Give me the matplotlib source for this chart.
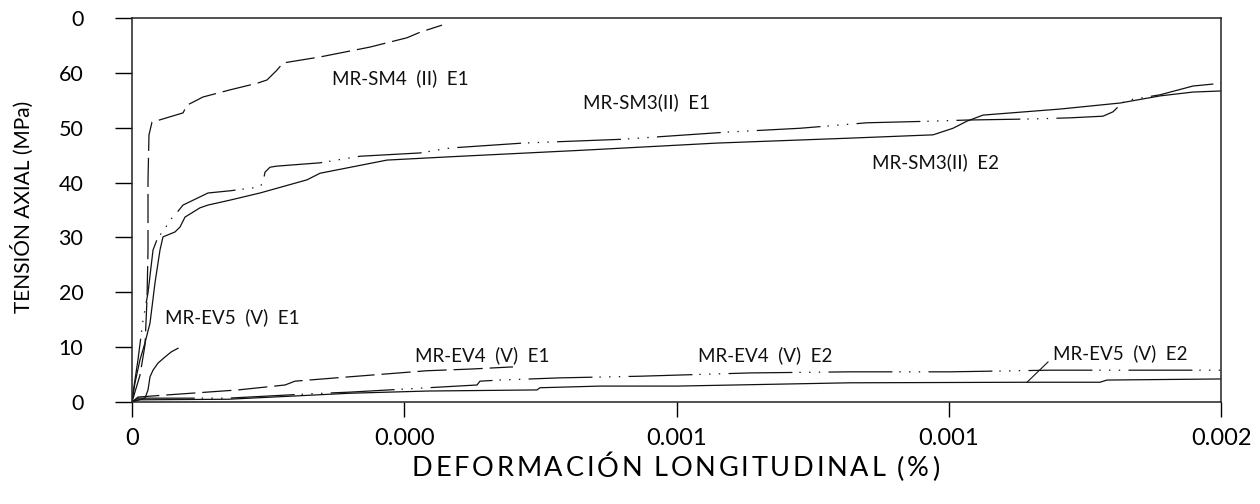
import matplotlib
matplotlib.use("Agg")
import matplotlib.pyplot as plt
import numpy as np

plt.rcParams['font.family'] = ['Lato', 'DejaVu Sans']
plt.rcParams['lines.scale_dashes'] = False

# strain values in units of 1e-3 (plotted as x * 1e-3), stress in MPa
sm4_e1_x = [0, 0.0147, 0.0239, 0.0275, 0.0294, 0.0294, 0.0312, 0.0367, 0.0937, 0.101, 0.1304,
            0.18, 0.2296, 0.2479, 0.2663, 0.2773, 0.3453, 0.4371, 0.5051, 0.5289, 0.5693]
sm4_e1_y = [0, 4.9, 10.4, 18.6, 27.7, 40.5, 48.7, 51.0, 52.7, 54.1, 55.6,
            56.9, 58.1, 58.7, 60.5, 61.8, 62.9, 64.7, 66.4, 67.4, 68.7]

sm3_e1_x = [0, 0.0018, 0.011, 0.0202, 0.0294, 0.0386, 0.0478, 0.0606, 0.0661, 0.079, 0.0937,
            0.1396, 0.18, 0.2351, 0.2406, 0.2443, 0.2534, 0.2663, 0.3453, 0.4187, 0.5289, 0.584,
            0.7181, 0.9017, 1.0927, 1.2268, 1.3499, 1.4711, 1.5335, 1.6547, 1.7227, 1.7833,
            1.8017, 1.8182, 1.8274, 1.888, 1.9486, 2.0]
sm3_e1_y = [0, 1.6, 7.7, 14.9, 19.9, 27.7, 30.1, 31.4, 32.8, 34.1, 35.9,
            38.1, 38.5, 39.2, 40.1, 41.9, 42.8, 43.0, 43.6, 44.8, 45.4, 46.3,
            47.2, 47.9, 49.2, 49.9, 50.9, 51.2, 51.4, 51.6, 51.8, 52.1,
            52.9, 54.5, 55.0, 56.0, 57.6, 58.1]

sm3_e2_x = [0, 0.0055, 0.0147, 0.0239, 0.0331, 0.0422, 0.0514, 0.0569, 0.079, 0.0882, 0.0973,
            0.1249, 0.1396, 0.18, 0.2351, 0.3214, 0.3453, 0.4683, 0.584, 0.8283, 1.0744,
            1.3186, 1.4711, 1.5078, 1.5335, 1.5629, 1.7043, 1.8145, 1.888, 1.9486, 2.0]
sm3_e2_y = [0, 3.5, 7.7, 10.8, 14.4, 21.7, 27.7, 30.1, 31.0, 31.9, 33.7,
            35.4, 35.9, 36.8, 38.1, 40.5, 41.7, 44.1, 44.7, 45.9, 47.2,
            48.1, 48.7, 49.9, 51.2, 52.3, 53.4, 54.5, 55.8, 56.5, 56.7]

ev5_e1_x = [0, 0.0239, 0.0294, 0.0331, 0.0386, 0.0478, 0.0606, 0.0716, 0.0845]
ev5_e1_y = [0, 0.7, 2.2, 4.6, 5.8, 7.1, 8.2, 9.1, 9.8]

ev4_e1_x = [0, 0.011, 0.0661, 0.1947, 0.281, 0.2994, 0.4004, 0.5418, 0.6208, 0.6997]
ev4_e1_y = [0, 0.9, 1.3, 2.2, 3.1, 3.8, 4.6, 5.7, 6.0, 6.4]

ev4_e2_x = [0, 0.011, 0.1763, 0.3287, 0.4004, 0.5436, 0.6336, 0.6391, 0.6758, 0.786, 0.933,
            1.135, 1.3186, 1.5023, 1.686, 2.0]
ev4_e2_y = [0, 0.7, 0.7, 1.5, 1.8, 2.6, 3.1, 3.8, 4.0, 4.4, 4.7,
            5.3, 5.5, 5.5, 5.8, 5.8]

ev5_e2_x = [0, 0.011, 0.1763, 0.2994, 0.4004, 0.5436, 0.7438, 0.7493, 0.8595, 1.0009, 1.3186,
            1.6437, 1.7778, 1.7906, 2.0]
ev5_e2_y = [0, 0.4, 0.5, 1.1, 1.6, 2.0, 2.2, 2.6, 2.9, 2.9, 3.5,
            3.6, 3.6, 4.0, 4.2]

xtick_vals = [0, 0.0005, 0.001, 0.0015, 0.002]
xtick_labels = ['0', '0.000', '0.001', '0.001', '0.002']
ytick_vals = [0, 10, 20, 30, 40, 50, 60, 70]
ytick_labels = ['0', '10', '20', '30', '40', '50', '60', '0']

labels = ['MR-SM4  (II)  E1', 'MR-SM3(II)  E1', 'MR-SM3(II)  E2', 'MR-EV5  (V)  E1',
          'MR-EV4  (V)  E1', 'MR-EV4  (V)  E2', 'MR-EV5  (V)  E2']
label_x = [0.3673, 0.8283, 1.359, 0.0606, 0.5197, 1.0395, 1.6915]
label_y = [59.1, 54.7, 43.7, 15.5, 8.6, 8.6, 8.9]

x_title = 'DEFORMACIÓN LONGITUDINAL (%)'
y_title = 'TENSIÓN AXIAL (MPa)'

W, H = 1260, 504
fig = plt.figure(figsize=(W / 100, H / 100), dpi=100)
ax = fig.add_axes([132/W, 1 - 402/H, 1089/W, 384/H])

S = 1e-3
dashed = (0, (21, 5))
dashdotdot = (0, (46, 5, 1, 6, 1, 6, 1, 6))
lw = 0.9
col = '#111111'
ax.plot(np.array(sm4_e1_x) * S, sm4_e1_y, color=col, lw=lw, linestyle=dashed)
ax.plot(np.array(sm3_e1_x) * S, sm3_e1_y, color=col, lw=lw, linestyle=dashdotdot)
ax.plot(np.array(sm3_e2_x) * S, sm3_e2_y, color=col, lw=lw, linestyle='-')
ax.plot(np.array(ev5_e1_x) * S, ev5_e1_y, color=col, lw=lw, linestyle='-')
ax.plot(np.array(ev4_e1_x) * S, ev4_e1_y, color=col, lw=lw, linestyle=dashed)
ax.plot(np.array(ev4_e2_x) * S, ev4_e2_y, color=col, lw=lw, linestyle=dashdotdot)
ax.plot(np.array(ev5_e2_x) * S, ev5_e2_y, color=col, lw=lw, linestyle='-')

# leader line for MR-EV5 (V) E2
ax.plot([1.6437 * S, 1.6823 * S], [3.6, 7.3], color=col, lw=0.8)

for t, lx, ly in zip(labels, label_x, label_y):
    ax.text(lx * S, ly, t, fontsize=13.5, ha='left', va='center', color='#111111')

ax.set_xlim(0, 0.002)
ax.set_ylim(0, 70)
ax.set_xticks(xtick_vals)
ax.set_xticklabels(xtick_labels)
ax.set_yticks(ytick_vals)
ax.set_yticklabels(ytick_labels)
ax.tick_params(axis='y', direction='out', length=12, width=1, labelsize=15.5)
ax.tick_params(axis='x', direction='out', length=11, width=1, labelsize=17)
ax.yaxis.set_tick_params(pad=23)
ax.xaxis.set_tick_params(pad=8)
for sp in ax.spines.values():
    sp.set_linewidth(1.1)
    sp.set_color('#222222')

fig.text(22/W, 1 - 207/H, y_title, rotation=90, ha='center', va='center', fontsize=15)

# x axis title, lightly tracked to span the same width as the reference
renderer = fig.canvas.get_renderer()
fs = 19.5
start_px, end_px, cy = 412, 939, 469
widths = []
for ch in x_title:
    if ch == ' ':
        widths.append(fs * 100 / 72 * 0.24)
    else:
        t = fig.text(0, 0, ch, fontsize=fs)
        widths.append(t.get_window_extent(renderer).width)
        t.remove()
gap = ((end_px - start_px) - sum(widths)) / (len(x_title) - 1)
pos = start_px
for ch, w in zip(x_title, widths):
    if ch != ' ':
        fig.text(pos / W, 1 - cy / H, ch, fontsize=fs, ha='left', va='center')
    pos += w + gap

fig.savefig('out.png', dpi=100)
